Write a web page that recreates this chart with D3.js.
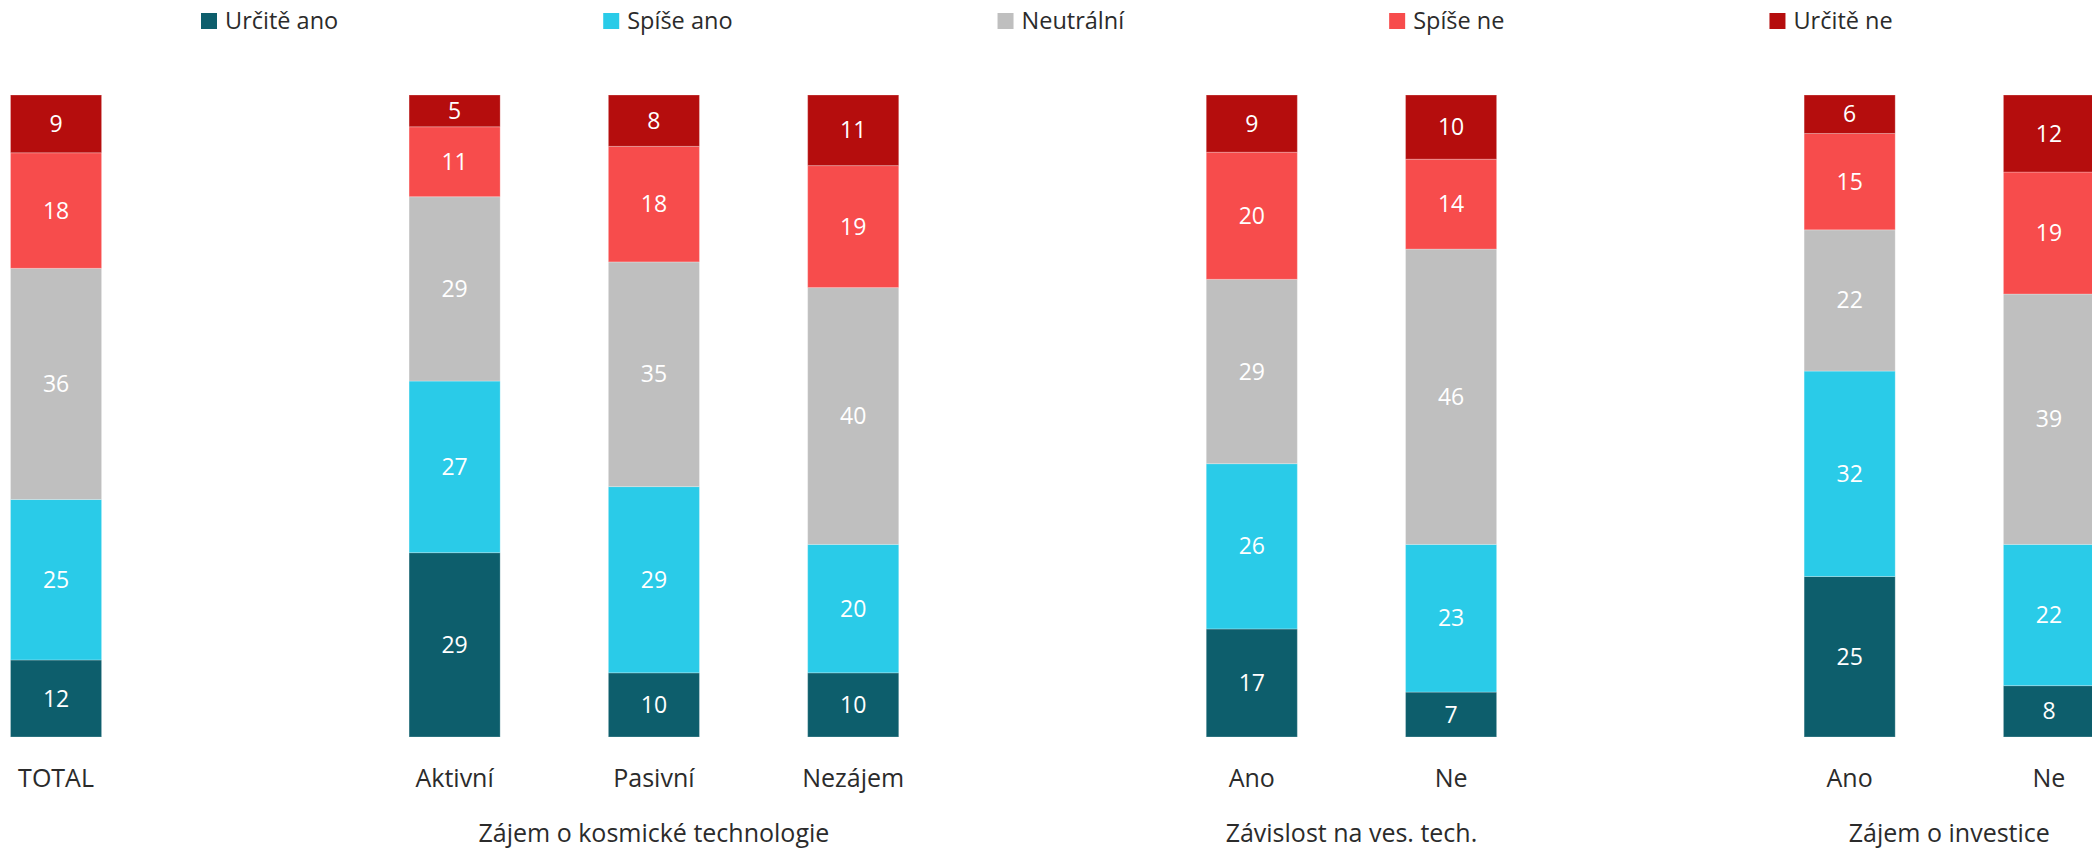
<!DOCTYPE html>
<html>
<head>
<meta charset="utf-8">
<script src="https://cdn.jsdelivr.net/npm/d3@7"></script>
<style>
  body { margin: 0; background: #fff; }
  text { font-family: "Open Sans", "Noto Sans", sans-serif; }
</style>
</head>
<body>
<svg id="chart"></svg>
<script>
// categories (bars) and the group each belongs to
const categories = ["TOTAL", "Aktivní", "Pasivní", "Nezájem", "Ano", "Ne", "Ano", "Ne"];
const groupOf = [0, 1, 1, 1, 2, 2, 3, 3];
const groupTitles = ["", "Zájem o kosmické technologie", "Závislost na ves. tech.", "Zájem o investice"];

// series, bottom to top
const seriesNames = ["Určitě ano", "Spíše ano", "Neutrální", "Spíše ne", "Určitě ne"];
const urciteAno = [12, 29, 10, 10, 17, 7, 25, 8];
const spiseAno  = [25, 27, 29, 20, 26, 23, 32, 22];
const neutralni = [36, 29, 35, 40, 29, 46, 22, 39];
const spiseNe   = [18, 11, 18, 19, 20, 14, 15, 19];
const urciteNe  = [9, 5, 8, 11, 9, 10, 6, 12];

const colors = ["#0d5e6c", "#2acbe8", "#bfbfbf", "#f74c4c", "#b50d0d"];

let width = 2092;
let height = 848;
let barTop = 95;
let barBottom = 737;

let svg = d3.select('#chart')
            .attr('width', width)
            .attr('height', height);

// rows for d3.stack
const seriesValues = [urciteAno, spiseAno, neutralni, spiseNe, urciteNe];
const rows = categories.map((c, i) => {
    let row = { id: "c" + i, label: c, group: groupOf[i] };
    seriesNames.forEach((s, k) => row[s] = seriesValues[k][i]);
    return row;
});

// band domain with one empty slot between groups
let domain = [];
rows.forEach((r, i) => {
    if (i > 0 && r.group !== rows[i - 1].group) domain.push("gap" + i);
    domain.push(r.id);
});

const xScale = d3.scaleBand()
                 .domain(domain)
                 .range([10.5, 2094.5])
                 .paddingInner(0.543)
                 .paddingOuter(0);

const yScale = d3.scaleLinear()
                 .domain([0, 1])
                 .range([barBottom, barTop]);

const stacked = d3.stack()
                  .keys(seriesNames)
                  .offset(d3.stackOffsetExpand)(rows);

const layers = svg.selectAll('g.layer')
                  .data(stacked)
                  .enter()
                  .append('g')
                  .attr('class', 'layer')
                  .attr('fill', (d, i) => colors[i]);

layers.selectAll('rect')
      .data(d => d)
      .enter()
      .append('rect')
      .attr('x', d => xScale(d.data.id))
      .attr('y', d => yScale(d[1]))
      .attr('width', xScale.bandwidth())
      .attr('height', d => yScale(d[0]) - yScale(d[1]))
      .attr('stroke', '#ffffff')
      .attr('stroke-opacity', 0.25)
      .attr('stroke-width', 1);

layers.each(function (layer) {
    d3.select(this).selectAll('text')
      .data(layer)
      .enter()
      .append('text')
      .attr('x', d => xScale(d.data.id) + xScale.bandwidth() / 2)
      .attr('y', d => (yScale(d[0]) + yScale(d[1])) / 2)
      .attr('dy', '0.35em')
      .attr('text-anchor', 'middle')
      .attr('fill', '#ffffff')
      .style('font-size', '23px')
      .text(d => d.data[layer.key]);
});

// category labels
svg.selectAll('text.cat')
   .data(rows)
   .enter()
   .append('text')
   .attr('class', 'cat')
   .attr('x', d => xScale(d.id) + xScale.bandwidth() / 2)
   .attr('y', 787)
   .attr('text-anchor', 'middle')
   .attr('fill', '#2b2b2b')
   .style('font-size', '25px')
   .text(d => d.label);

// group titles centred under their bars
groupTitles.forEach((t, g) => {
    if (!t) return;
    const members = rows.filter(r => r.group === g);
    const first = xScale(members[0].id);
    const last = xScale(members[members.length - 1].id) + xScale.bandwidth();
    svg.append('text')
       .attr('class', 'group')
       .attr('x', (first + last) / 2)
       .attr('y', 842)
       .attr('text-anchor', 'middle')
       .attr('fill', '#2b2b2b')
       .style('font-size', '25px')
       .text(t);
});

// legend
const legend = svg.append('g').attr('class', 'legend');
let lx = 201;
seriesNames.forEach((s, i) => {
    legend.append('rect')
          .attr('x', lx)
          .attr('y', 13)
          .attr('width', 16)
          .attr('height', 16)
          .attr('fill', colors[i]);
    const t = legend.append('text')
                    .attr('x', lx + 24)
                    .attr('y', 29)
                    .attr('fill', '#2b2b2b')
                    .style('font-size', '23.5px')
                    .text(s);
    lx = lx + 24 + t.node().getComputedTextLength() + 265;
});
</script>
</body>
</html>
